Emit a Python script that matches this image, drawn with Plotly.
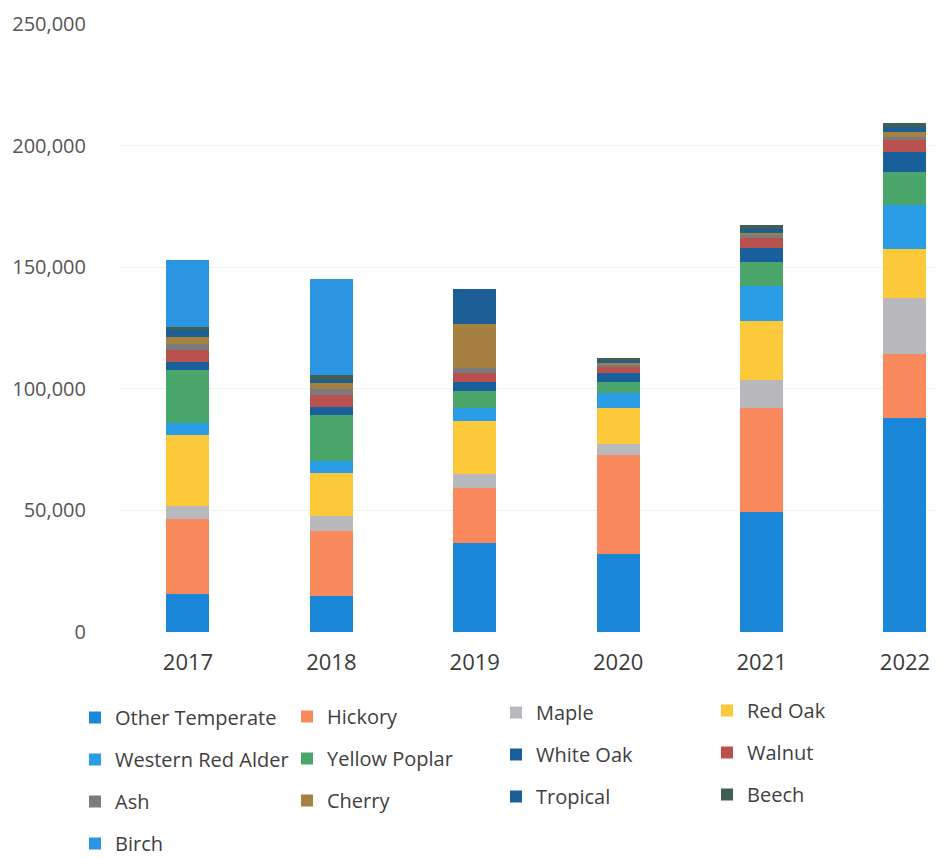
import plotly.graph_objects as go

years = ["2017", "2018", "2019", "2020", "2021", "2022"]

other_temperate = [15700, 15000, 36800, 32000, 49300, 87900]
hickory = [30600, 26600, 22500, 40900, 42800, 26400]
maple = [5500, 6100, 5500, 4500, 11500, 23100]
red_oak = [29300, 17700, 21800, 14600, 24300, 20000]
western_red_alder = [4800, 4800, 5500, 6100, 14200, 18300]
yellow_poplar = [21800, 19100, 6800, 4800, 10000, 13600]
white_oak = [3400, 3400, 4100, 3700, 5800, 8100]
walnut = [4800, 4800, 3400, 2500, 4200, 4700]
ash = [2700, 2500, 2000, 800, 1000, 1600]
cherry = [2500, 2300, 18400, 600, 1100, 2000]
tropical = [3000, 1500, 14300, 1000, 1600, 2000]
beech = [1500, 2000, 0, 1300, 1500, 1600]
birch = [27200, 39500, 0, 0, 0, 0]

# name, values, colour, which legend column
series = [
    ("Other Temperate", other_temperate, "#1a87d8", "legend"),
    ("Hickory", hickory, "#fa8a5e", "legend2"),
    ("Maple", maple, "#b9b9bd", "legend3"),
    ("Red Oak", red_oak, "#fcc93a", "legend4"),
    ("Western Red Alder", western_red_alder, "#2a9de6", "legend"),
    ("Yellow Poplar", yellow_poplar, "#4ba66c", "legend2"),
    ("White Oak", white_oak, "#185f9b", "legend3"),
    ("Walnut", walnut, "#b9514e", "legend4"),
    ("Ash", ash, "#7b7b7e", "legend"),
    ("Cherry", cherry, "#a6803f", "legend2"),
    ("Tropical", tropical, "#1c5f96", "legend3"),
    ("Beech", beech, "#3f5e55", "legend4"),
    ("Birch", birch, "#2a95e0", "legend"),
]

fig = go.Figure()
for name, vals, color, leg in series:
    fig.add_trace(go.Bar(x=years, y=vals, name=name, marker_color=color,
                         marker_line_width=0, legend=leg, legendgroup=name))

# four legend columns, laid out like the original's grid
leg_style = dict(orientation="v", traceorder="grouped", tracegroupgap=13,
                 font=dict(family="Open Sans", size=20, color="#404040"),
                 bgcolor="rgba(0,0,0,0)", xref="container", yref="container",
                 xanchor="left", yanchor="top", itemwidth=30)

fig.update_layout(
    width=945, height=858,
    margin=dict(l=112, r=0, t=16, b=234, autoexpand=False),
    plot_bgcolor="white", paper_bgcolor="white",
    barmode="stack", bargap=0.7,
    font=dict(family="Open Sans", color="#404040"),
    legend=dict(x=67 / 945, y=1 - 690 / 858, **leg_style),
    legend2=dict(x=279 / 945, y=1 - 689 / 858, **leg_style),
    legend3=dict(x=488 / 945, y=1 - 685 / 858, **leg_style),
    legend4=dict(x=699 / 945, y=1 - 683 / 858, **leg_style),
    showlegend=True,
)
fig.update_xaxes(type="category", range=[-0.474, 5.335], showline=False,
                 ticks="", ticklabelstandoff=15, automargin=False,
                 tickfont=dict(family="Open Sans", size=22, color="#3a3a3a"))
fig.update_yaxes(range=[0, 250000], dtick=50000, tickformat=",",
                 showgrid=True, gridcolor="#f3f3f3", zeroline=False,
                 ticks="", ticklabelstandoff=33, automargin=False,
                 ticklabeloverflow="allow",
                 tickfont=dict(family="Open Sans", size=20, color="#555555"))

fig.write_html("out.html")
